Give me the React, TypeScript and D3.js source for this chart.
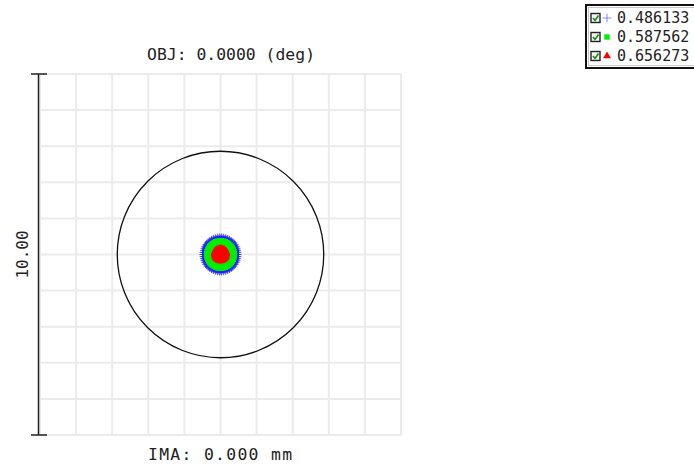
import * as React from 'react';
import * as d3 from 'd3';

// Box side is 10 µm, centred on the chief ray
const boxSize = 10.0;
const gridStep = 1.0;
const airyRadius = 2.86;

const wavelengths = [0.486133, 0.587562, 0.656273];
const waveColors = ['#1a1aff', '#00ee00', '#ff0000'];

// ring radii (µm) of the traced ray pattern for each wavelength
const blueRings = [0, 0.07, 0.14, 0.21, 0.28, 0.34, 0.39, 0.43, 0.47, 0.5];
const greenRings = [0, 0.06, 0.12, 0.18, 0.24, 0.29, 0.34, 0.38, 0.41];
const redRings = [0, 0.05, 0.09, 0.13, 0.16, 0.18, 0.2];
const spotRings = [blueRings, greenRings, redRings];
const raysPerRing = [1, 6, 12, 18, 24, 30, 36, 42, 48, 54];

const W = 694;
const H = 467;
const mono = '"DejaVu Sans Mono", monospace';

const x = d3.scaleLinear().domain([-boxSize / 2, boxSize / 2]).range([40, 401]);
const y = d3.scaleLinear().domain([-boxSize / 2, boxSize / 2]).range([435, 74]);

const gridTicks = d3.range(-boxSize / 2, boxSize / 2 + 1e-9, gridStep);

function rays(rings: number[]) {
  const pts: [number, number][] = [];
  rings.forEach((r, i) => {
    const n = raysPerRing[i];
    for (let k = 0; k < n; k++) {
      const a = (2 * Math.PI * k) / n;
      pts.push([r * Math.cos(a), r * Math.sin(a)]);
    }
  });
  return pts;
}

function Marker({ kind, cx, cy, color, s = 1 }: { kind: number; cx: number; cy: number; color: string; s?: number }) {
  if (kind === 0) {
    const h = 3 * s;
    return (
      <path
        d={`M${cx - h},${cy}H${cx + h}M${cx},${cy - h}V${cy + h}`}
        stroke={color}
        strokeWidth={1}
        strokeOpacity={s > 1 ? 0.5 : 0.7}
      />
    );
  }
  if (kind === 1) {
    const h = 1.8 * s;
    return <rect x={cx - h} y={cy - h} width={2 * h} height={2 * h} fill={color} />;
  }
  const tri = d3.symbol().type(d3.symbolTriangle).size(12 * s * s)();
  return <path d={tri || ''} transform={`translate(${cx},${cy})`} fill={color} />;
}

function CheckBox({ px, py }: { px: number; py: number }) {
  return (
    <g>
      <rect x={px} y={py} width={9} height={9} fill="#f4f4f4" stroke="#222" strokeWidth={1.4} />
      <path
        d={`M${px + 2},${py + 4.5}L${px + 4},${py + 7}L${px + 7.5},${py + 2}`}
        stroke="#1a8a1a"
        strokeWidth={1.6}
        fill="none"
      />
    </g>
  );
}

export default function App() {
  const cx = x(0);
  const cy = y(0);
  const airyPx = x(airyRadius) - x(0);

  return (
    <svg
      width={W}
      height={H}
      style={{ position: 'absolute', left: 0, top: 0, background: '#fff' }}
    >
      {/* grid */}
      {gridTicks.map((t) => (
        <g key={t}>
          <line x1={x(t)} x2={x(t)} y1={y(-5)} y2={y(5)} stroke="#ebebeb" strokeWidth={2} />
          <line x1={x(-5)} x2={x(5)} y1={y(t)} y2={y(t)} stroke="#ebebeb" strokeWidth={2} />
        </g>
      ))}

      {/* scale bar */}
      <line x1={38.5} x2={38.5} y1={y(5)} y2={y(-5)} stroke="#222" strokeWidth={1.5} />
      <line x1={31} x2={47} y1={y(5)} y2={y(5)} stroke="#222" strokeWidth={1.5} />
      <line x1={31} x2={47} y1={y(-5)} y2={y(-5)} stroke="#222" strokeWidth={1.5} />
      <text
        transform={`translate(28,${cy}) rotate(-90)`}
        textAnchor="middle"
        fontFamily={mono}
        fontSize={16}
        fill="#222"
      >
        {boxSize.toFixed(2)}
      </text>

      {/* airy disk */}
      <circle cx={cx} cy={cy} r={airyPx} fill="none" stroke="#111" strokeWidth={1.3} />

      {/* spots */}
      {spotRings.map((rings, wi) => (
        <g key={wi}>
          {rays(rings).map(([px, py], i) => (
            <Marker key={i} kind={wi} cx={x(px)} cy={y(py)} color={waveColors[wi]} />
          ))}
        </g>
      ))}

      {/* titles */}
      <text x={147} y={60} fontFamily={mono} fontSize={16.4} fill="#222" textLength={168} lengthAdjust="spacing">
        OBJ: 0.0000 (deg)
      </text>
      <text x={148} y={460} fontFamily={mono} fontSize={16.4} fill="#222" textLength={144} lengthAdjust="spacing">
        IMA: 0.000 mm
      </text>

      {/* legend */}
      <rect x={586} y={5} width={112} height={63} fill="#fff" stroke="#111" strokeWidth={2} />
      <rect x={588.5} y={7.5} width={112} height={58} fill="none" stroke="#bbb" strokeWidth={0.8} />
      {wavelengths.map((w, i) => {
        const ry = 18 + i * 19;
        return (
          <g key={w}>
            <CheckBox px={591} py={ry - 4.5} />
            <Marker kind={i} cx={607} cy={ry} color={waveColors[i]} s={1.5} />
            <text x={617} y={ry + 5} fontFamily={mono} fontSize={15} fill="#222">
              {w.toFixed(6)}
            </text>
          </g>
        );
      })}
    </svg>
  );
}
